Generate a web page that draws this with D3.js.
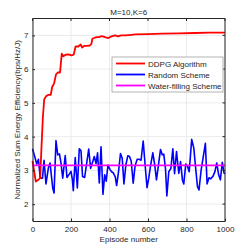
<!DOCTYPE html>
<html>
<head>
<meta charset="utf-8">
<script src="https://cdn.jsdelivr.net/npm/d3@7"></script>
<style>
  body { margin: 0; background: #fff; }
  text { font-family: "Liberation Sans", Arial, sans-serif; fill: #262626; }
</style>
</head>
<body>
<div id="chart"></div>
<script>
// DDPG curve (episode, value)
var ddpgEp = [0, 17, 30, 40, 46, 54, 61, 71, 83, 95, 102, 112, 122, 131, 143, 152, 160, 174, 186, 203, 214, 224, 238, 250, 258, 268, 281, 298, 306, 311, 323, 335, 345, 360, 380, 394, 410, 429, 445, 460, 481, 500, 533, 600, 671, 760, 844, 920, 1000];
var ddpgVal = [3.28, 2.67, 2.72, 2.77, 3.6, 4.58, 5.11, 5.2, 5.24, 5.24, 5.47, 5.57, 5.84, 5.9, 5.9, 6.46, 6.38, 6.43, 6.44, 6.41, 6.43, 6.67, 6.67, 6.73, 6.64, 6.69, 6.69, 6.7, 6.75, 6.9, 6.93, 6.95, 6.95, 6.98, 6.94, 6.92, 6.97, 7.0, 6.97, 7.0, 7.0, 7.01, 7.03, 7.04, 7.05, 7.06, 7.07, 7.08, 7.08];

// random scheme (episode, value)
var randEp = [0, 14, 22, 31, 40, 52, 60, 70, 83, 91, 105, 112, 122, 131, 140, 148, 157, 170, 179, 191, 200, 207, 212, 222, 233, 243, 252, 260, 271, 281, 292, 302, 312, 321, 330, 338, 347, 356, 366, 375, 383, 392, 402, 411, 419, 430, 437, 447, 457, 466, 475, 485, 495, 504, 513, 523, 533, 544, 554, 564, 575, 585, 595, 604, 613, 625, 635, 644, 652, 665, 674, 682, 691, 698, 708, 719, 729, 738, 748, 760, 769, 779, 786, 796, 805, 814, 827, 838, 846, 857, 865, 876, 886, 898, 907, 917, 926, 938, 948, 957, 967, 976, 986, 995, 1000];
var randVal = [3.64, 3.36, 3.19, 3.33, 2.77, 2.77, 3.3, 2.6, 3.09, 3.22, 2.48, 2.33, 3.88, 3.46, 3.49, 3.22, 2.77, 3.44, 2.79, 2.89, 2.97, 2.73, 2.4, 3.38, 2.48, 3.64, 3.58, 2.82, 2.79, 3.19, 3.63, 3.06, 3.24, 3.41, 3.2, 3.52, 2.63, 3.7, 2.29, 2.87, 2.68, 3.16, 3.03, 2.96, 2.93, 2.81, 2.55, 2.96, 3.5, 3.36, 2.6, 3.16, 3.43, 3.41, 3.27, 2.62, 3.14, 3.33, 3.33, 3.3, 3.87, 3.16, 2.49, 2.77, 3.13, 3.52, 3.16, 2.72, 3.06, 3.62, 3.46, 3.48, 3.04, 2.24, 2.96, 3.06, 3.64, 2.9, 3.56, 2.91, 3.26, 2.71, 2.6, 3.19, 3.12, 2.96, 3.92, 3.66, 3.16, 2.52, 2.42, 3.01, 3.36, 3.8, 2.6, 2.78, 2.75, 2.83, 2.97, 3.22, 2.87, 2.72, 3.24, 2.92, 2.9];

var waterVal = 3.15;

var xTicks = [0, 200, 400, 600, 800, 1000];
var yTicks = [2, 3, 4, 5, 6, 7];
var legendNames = ["DDPG Algorithm", "Random Scheme", "Water-filling Scheme"];
var colors = ["#ff0000", "#0000ff", "#ff00ff"];

var width = 249, height = 249;
var margin = {top: 18.5, right: 24, bottom: 28, left: 32.5};

var svg = d3.select("#chart").append("svg")
    .attr("width", width)
    .attr("height", height);

var x = d3.scaleLinear().domain([0, 1000]).range([margin.left, width - margin.right]);
var y = d3.scaleLinear().domain([1.5, 7.5]).range([height - margin.bottom, margin.top]);

// grid
svg.append("g").selectAll("line").data(xTicks).enter().append("line")
    .attr("x1", d => x(d)).attr("x2", d => x(d))
    .attr("y1", y(1.5)).attr("y2", y(7.5))
    .attr("stroke", "#e6e6e6").attr("stroke-width", 0.8);
svg.append("g").selectAll("line").data(yTicks).enter().append("line")
    .attr("x1", x(0)).attr("x2", x(1000))
    .attr("y1", d => y(d)).attr("y2", d => y(d))
    .attr("stroke", "#e6e6e6").attr("stroke-width", 0.8);

var line = d3.line().x(d => x(d[0])).y(d => y(d[1]));

svg.append("path")
    .datum(randEp.map((e, i) => [e, randVal[i]]))
    .attr("d", line).attr("fill", "none")
    .attr("stroke", colors[1]).attr("stroke-width", 1.6)
    .attr("stroke-linejoin", "round");

svg.append("path")
    .datum(ddpgEp.map((e, i) => [e, ddpgVal[i]]))
    .attr("d", line).attr("fill", "none")
    .attr("stroke", colors[0]).attr("stroke-width", 1.8)
    .attr("stroke-linejoin", "round");

svg.append("path")
    .datum([[0, waterVal], [1000, waterVal]])
    .attr("d", line).attr("fill", "none")
    .attr("stroke", colors[2]).attr("stroke-width", 1.8);

// axes
var xAxis = svg.append("g")
    .attr("transform", `translate(0,${y(1.5)})`)
    .call(d3.axisBottom(x).tickValues(xTicks).tickFormat(d3.format("d"))
      .tickSizeInner(-2.5).tickSizeOuter(0).tickPadding(5));
var yAxis = svg.append("g")
    .attr("transform", `translate(${x(0)},0)`)
    .call(d3.axisLeft(y).tickValues(yTicks).tickFormat(d3.format("d"))
      .tickSizeInner(-2.5).tickSizeOuter(0).tickPadding(4));
[xAxis, yAxis].forEach(function(a) {
  a.selectAll("text").style("font-size", "8px").style("fill", "#262626");
  a.selectAll("line").attr("stroke", "#262626");
  a.select(".domain").attr("stroke", "#262626");
});

// box top and right
svg.append("line").attr("x1", x(0)).attr("x2", x(1000)).attr("y1", y(7.5)).attr("y2", y(7.5))
    .attr("stroke", "#262626");
svg.append("line").attr("x1", x(1000)).attr("x2", x(1000)).attr("y1", y(7.5)).attr("y2", y(1.5))
    .attr("stroke", "#262626");
svg.append("g").selectAll("line").data(yTicks).enter().append("line")
    .attr("x1", x(1000)).attr("x2", x(1000) - 2.5)
    .attr("y1", d => y(d)).attr("y2", d => y(d)).attr("stroke", "#262626");
svg.append("g").selectAll("line").data(xTicks).enter().append("line")
    .attr("x1", d => x(d)).attr("x2", d => x(d))
    .attr("y1", y(7.5)).attr("y2", y(7.5) + 2.5).attr("stroke", "#262626");

// title and labels
svg.append("text").attr("x", (x(0) + x(1000)) / 2).attr("y", 15)
    .attr("text-anchor", "middle").style("font-size", "8px").text("M=10,K=6");
svg.append("text").attr("x", (x(0) + x(1000)) / 2).attr("y", 242)
    .attr("text-anchor", "middle").style("font-size", "8px").text("Episode number");
svg.append("text")
    .attr("transform", `translate(20,${(y(1.5) + y(7.5)) / 2})rotate(-90)`)
    .attr("text-anchor", "middle").style("font-size", "8px")
    .text("Normalized Sum Energy Efficiency(bps/Hz/J)");

// legend
var lg = svg.append("g").attr("transform", "translate(112,57)");
lg.append("rect").attr("width", 111).attr("height", 35)
    .attr("fill", "#fff").attr("stroke", "#a0a0a0").attr("stroke-width", 0.8);
legendNames.forEach(function(name, i) {
  var yy = 6.5 + i * 11;
  lg.append("line").attr("x1", 4).attr("x2", 33).attr("y1", yy).attr("y2", yy)
      .attr("stroke", colors[i]).attr("stroke-width", 1.8);
  lg.append("text").attr("x", 36).attr("y", yy + 3)
      .style("font-size", "8px").text(name);
});
</script>
</body>
</html>
